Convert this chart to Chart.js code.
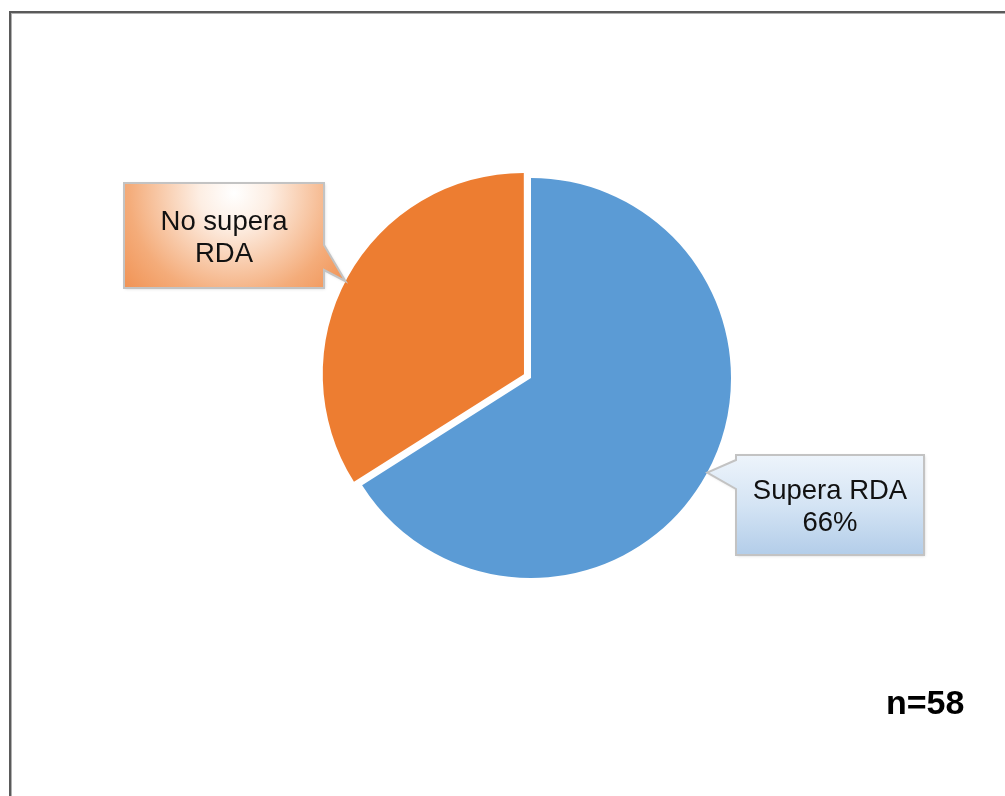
<!DOCTYPE html>
<html>
<head>
<meta charset="utf-8">
<script src="https://cdn.jsdelivr.net/npm/chart.js@4/dist/chart.umd.min.js"></script>
<style>
  html, body { margin: 0; padding: 0; background: #ffffff; }
  #wrap { position: relative; width: 1005px; height: 796px; }
</style>
</head>
<body>
<div id="wrap"><canvas id="pie" width="1005" height="796"></canvas></div>
<script>
// Share of respondents above / below the RDA
const categories = ['Supera RDA', 'No supera RDA'];
const percentages = [66, 34];
const sliceColors = ['#5B9BD5', '#ED7D31'];
const sliceOffsets = [0, 32];
const sampleLabel = 'n=58';

// Callout text lines per slice
const calloutLines = [
  ['Supera RDA', percentages[0] + '%'],
  ['No supera', 'RDA']
];

const FONT = '"Liberation Sans", Arial, sans-serif';

// Callout boxes: box rectangle, tail base on one side, anchor angle on the slice rim (degrees, canvas convention)
const callouts = [
  { box: [736, 455, 924, 555], side: 'left', tailBase: [460, 489], anchorDeg: 28.2, fill: 'blue', textY: [499, 531] },
  { box: [124, 183, 324, 288], side: 'right', tailBase: [245, 270], anchorDeg: 207.5, fill: 'orange', textY: [230, 262] }
];

// Translation and rim growth that ArcElement applies to an exploded slice
function arcGeometry(arc, off) {
  const circ = arc.endAngle - arc.startAngle;
  const fix = 1 - Math.sin(Math.min(Math.PI, circ || 0));
  const shift = off / 4;
  return { shift, radius: arc.outerRadius + shift * fix };
}

const frameAndLabels = {
  id: 'frameAndLabels',
  beforeDraw(chart) {
    const ctx = chart.ctx;
    ctx.save();
    ctx.fillStyle = '#ffffff';
    ctx.fillRect(0, 0, chart.width, chart.height);
    // outer frame
    ctx.fillStyle = '#5a5a5a';
    ctx.fillRect(9, 11, chart.width - 9, 2);
    ctx.fillRect(9, 11, 2, chart.height - 11);
    ctx.fillStyle = '#b0b0b0';
    ctx.fillRect(11, 13, chart.width - 11, 1);
    ctx.fillRect(11, 13, 1, chart.height - 13);
    ctx.restore();
  },
  afterDatasetsDraw(chart) {
    const ctx = chart.ctx;
    const meta = chart.getDatasetMeta(0);
    callouts.forEach((c, i) => {
      const arc = meta.data[i];
      const mid = (arc.startAngle + arc.endAngle) / 2;
      const geo = arcGeometry(arc, sliceOffsets[i]);
      const cx = arc.x + Math.cos(mid) * geo.shift;
      const cy = arc.y + Math.sin(mid) * geo.shift;
      const a = c.anchorDeg * Math.PI / 180;
      const tipX = cx + Math.cos(a) * geo.radius;
      const tipY = cy + Math.sin(a) * geo.radius;
      const [x0, y0, x1, y1] = c.box;

      ctx.save();
      ctx.beginPath();
      if (c.side === 'right') {
        ctx.moveTo(x0, y0);
        ctx.lineTo(x1, y0);
        ctx.lineTo(x1, c.tailBase[0]);
        ctx.lineTo(tipX, tipY);
        ctx.lineTo(x1, c.tailBase[1]);
        ctx.lineTo(x1, y1);
        ctx.lineTo(x0, y1);
      } else {
        ctx.moveTo(x0, y0);
        ctx.lineTo(x1, y0);
        ctx.lineTo(x1, y1);
        ctx.lineTo(x0, y1);
        ctx.lineTo(x0, c.tailBase[1]);
        ctx.lineTo(tipX, tipY);
        ctx.lineTo(x0, c.tailBase[0]);
      }
      ctx.closePath();

      let g;
      if (c.fill === 'orange') {
        const gx = (x0 + x1) / 2 + 10, gy = y0 + 10;
        g = ctx.createRadialGradient(gx, gy, 0, gx, gy, 175);
        g.addColorStop(0, '#ffffff');
        g.addColorStop(0.2, '#fdeee3');
        g.addColorStop(0.6, '#f4ac7a');
        g.addColorStop(1, '#ee7f37');
      } else {
        g = ctx.createLinearGradient(0, y0, 0, y1);
        g.addColorStop(0, '#edf4fb');
        g.addColorStop(0.5, '#d4e4f4');
        g.addColorStop(1, '#b3cde9');
      }
      ctx.shadowColor = 'rgba(0,0,0,0.18)';
      ctx.shadowBlur = 3;
      ctx.shadowOffsetX = 1;
      ctx.shadowOffsetY = 1;
      ctx.fillStyle = g;
      ctx.fill();
      ctx.shadowColor = 'transparent';
      ctx.lineWidth = 2;
      ctx.strokeStyle = '#c3c3c3';
      ctx.lineJoin = 'miter';
      ctx.stroke();

      ctx.fillStyle = '#111111';
      ctx.font = '27.5px ' + FONT;
      ctx.textAlign = 'center';
      ctx.textBaseline = 'alphabetic';
      calloutLines[i].forEach((line, k) => {
        ctx.fillText(line, (x0 + x1) / 2, c.textY[k]);
      });
      ctx.restore();
    });

    ctx.save();
    ctx.fillStyle = '#000000';
    ctx.font = 'bold 34px ' + FONT;
    ctx.textAlign = 'left';
    ctx.textBaseline = 'alphabetic';
    ctx.fillText(sampleLabel, 886, 714);
    ctx.restore();
  }
};

new Chart(document.getElementById('pie'), {
  type: 'pie',
  data: {
    labels: categories,
    datasets: [{
      data: percentages,
      backgroundColor: sliceColors,
      borderWidth: 0,
      offset: sliceOffsets,
      hoverOffset: 0
    }]
  },
  options: {
    responsive: false,
    animation: false,
    devicePixelRatio: 1,
    events: [],
    radius: 200,
    layout: { padding: { left: 57, right: 0, top: 0, bottom: 40 } },
    plugins: {
      legend: { display: false },
      tooltip: { enabled: false }
    }
  },
  plugins: [frameAndLabels]
});
</script>
</body>
</html>
